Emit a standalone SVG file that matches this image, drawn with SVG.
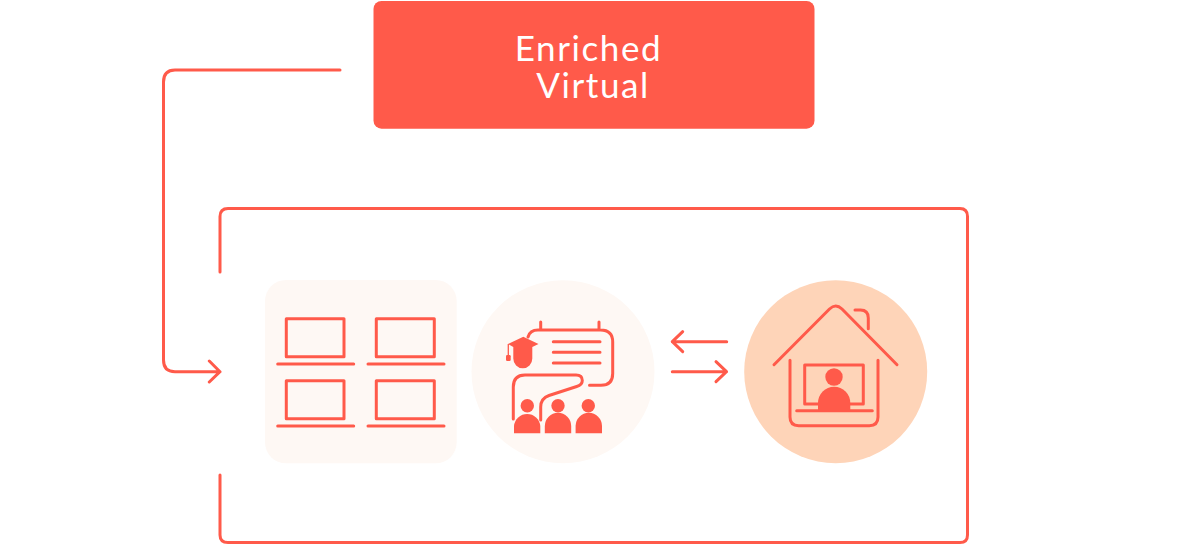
<svg xmlns="http://www.w3.org/2000/svg" width="1188" height="544" viewBox="0 0 1188 544">
<style>
.l{fill:none;stroke:#ff5a4a;stroke-width:3;stroke-linecap:round;stroke-linejoin:round}
.c{fill:none;stroke:#ff5a4a;stroke-width:3;stroke-linecap:round;stroke-linejoin:round}
.f{fill:#ff5a4a}
.bg{fill:#fef8f4}
.t{font-family:"Lato","Liberation Sans",sans-serif;font-size:35px;font-weight:400;letter-spacing:1.6px;fill:#fff;text-anchor:middle}
</style>
<g id="connectors">
<path class="c" d="M340 70H175Q163.500 70 163.500 82V360Q163.500 371.700 175 371.700H220M209.300 361L220 371.700L209.300 382"/>
<path class="c" d="M220 272V216.500Q220 208.500 228 208.500H960Q967.500 208.500 967.500 216.500V535Q967.500 542.500 960 542.500H228Q220 542.500 220 535V475"/>
<path class="c" d="M726.700 341.700H672.300M682.700 331.700L672.300 341.700L682.700 351.700"/>
<path class="c" d="M672.300 371.700H726.500M716 361.700L726.500 371.700L716 381.700"/>
</g>
<g id="enriched-virtual">
<rect class="f" x="373.500" y="1" width="441" height="127.700" rx="8"/>
<text class="t"><tspan x="588.500" y="61">Enriched</tspan><tspan x="593" y="97.500">Virtual</tspan></text>
</g>
<g id="laptops">
<rect class="bg" x="265" y="280" width="191.700" height="183.300" rx="21"/>
<g class="l">
<rect x="286.300" y="318.700" width="57.700" height="38"/>
<rect x="376.300" y="318.700" width="58" height="38"/>
<rect x="286.300" y="380.700" width="57.700" height="38"/>
<rect x="376.300" y="380.700" width="58" height="38"/>
<path d="M277.700 364H353.700M368 364H444M277.700 426H353.700M368 426H444"/>
</g>
</g>
<g id="classroom">
<circle class="bg" cx="563" cy="371.700" r="91.500"/>
<path class="l" d="M589.500 385.300H601Q612.700 385.300 612.700 373.500V342Q612.700 330 600.500 330H538Q530 330 528 337M540.700 322V330M599 322V330"/>
<path class="l" d="M553.300 341.700H600M553.300 352.300H600M553.300 363H600"/>
<path class="l" d="M513.300 419V387Q513.300 375 525 375H576Q582.300 375 582.300 380.500Q582.300 385 576.700 386.500L549 395.500Q540.700 398.500 540.700 407V420"/>
<path class="f" d="M508 344L523.300 336.700L538.500 344L532.300 347V358.500A9.500 9.800 0 0 1 513.300 358.500V347Z"/>
<path d="M508.300 344V357" fill="none" stroke="#ff5a4a" stroke-width="1.300"/>
<rect class="f" x="506" y="355" width="4.700" height="6" rx="1.200"/>
<circle class="f" cx="527.300" cy="405.700" r="6.700"/>
<circle class="f" cx="558" cy="405.700" r="6.700"/>
<circle class="f" cx="588.300" cy="405.700" r="6.700"/>
<path class="f" d="M514 433.300V426A13.200 13.200 0 0 1 540.300 426V433.300Z"/>
<path class="f" d="M544.800 433.300V426A13.200 13.200 0 0 1 571.200 426V433.300Z"/>
<path class="f" d="M575.600 433.300V426A13.200 13.200 0 0 1 602 426V433.300Z"/>
</g>
<g id="home">
<circle cx="835.700" cy="371.700" r="91.500" fill="#fed4b8"/>
<path class="l" d="M774 364.700L829.500 309Q835.700 303 842 309L897 364.700"/>
<path class="l" d="M855 310H860.500Q868.300 310 868.300 318V328.700"/>
<path class="l" d="M790 360.300V417Q790 425.700 798.700 425.700H869.300Q878 425.700 878 417V360.300"/>
<rect class="l" x="804.700" y="365" width="58.600" height="39"/>
<path class="l" d="M796.700 410.700H872.300"/>
<circle class="f" cx="834" cy="377" r="8.700"/>
<path class="f" d="M818 410.700V403A16.100 16.300 0 0 1 850.300 403V410.700Z"/>
</g>
</svg>
